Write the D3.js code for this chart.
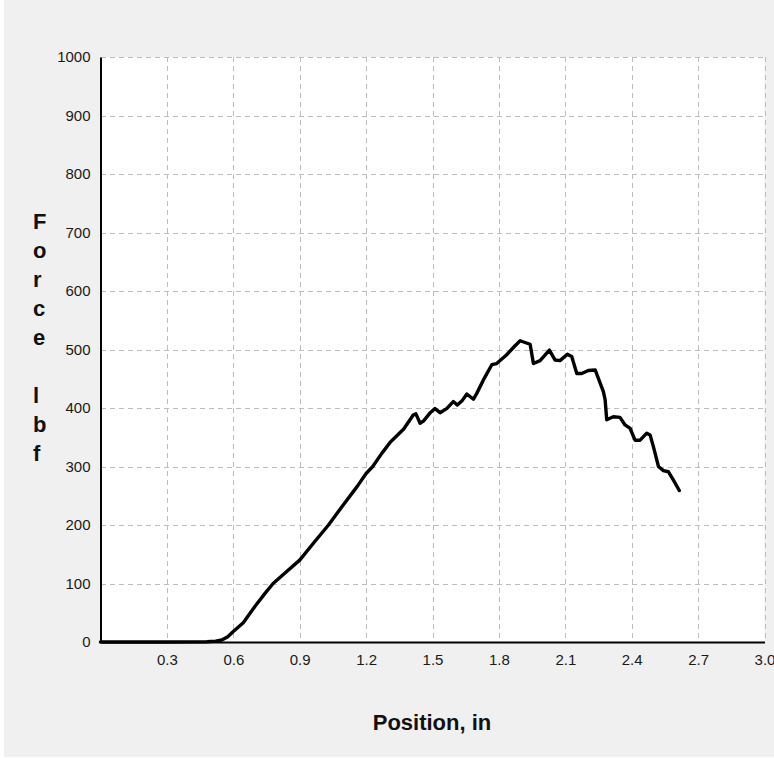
<!DOCTYPE html>
<html>
<head>
<meta charset="utf-8">
<script src="https://cdn.jsdelivr.net/npm/d3@7"></script>
<style>
  html, body { margin: 0; padding: 0; background: #ffffff; }
  svg { display: block; }
</style>
</head>
<body>
<svg id="chart" width="774" height="758"></svg>
<script>
// Force vs. position test record
const positionIn = [
  0, 0.3, 0.48, 0.52, 0.548, 0.575, 0.600, 0.645, 0.70, 0.745, 0.78,
  0.84, 0.90, 0.96, 1.03, 1.10, 1.16, 1.20, 1.23, 1.27,
  1.31, 1.37, 1.413, 1.425, 1.444, 1.46, 1.49, 1.511, 1.534, 1.564, 1.594, 1.612,
  1.635, 1.655, 1.685, 1.700, 1.730, 1.768, 1.790, 1.835, 1.872, 1.896, 1.918, 1.941,
  1.956, 1.986, 2.028, 2.054, 2.076, 2.109, 2.129, 2.152, 2.174, 2.204, 2.235, 2.249,
  2.272, 2.280, 2.287, 2.317, 2.347, 2.370, 2.393, 2.415, 2.438, 2.468, 2.483, 2.498,
  2.521, 2.543, 2.566, 2.588, 2.615
];
const forceLbf = [
  0, 0, 0.5, 1.5, 3.4, 9, 18, 33, 62, 84, 100,
  120, 140, 168, 200, 236, 266, 288, 300, 322,
  342, 364, 388, 390, 374, 378, 392, 399, 392, 399, 411, 405,
  413, 424, 415, 425, 448, 474, 476, 491, 506, 515, 512, 509,
  476, 481, 499, 482, 481, 492, 488, 459, 459, 464, 465, 451,
  428, 414, 380, 385, 384, 371, 365, 345, 345, 357, 354, 334,
  300, 293, 291, 277, 259
];
const xTicks = [0.3, 0.6, 0.9, 1.2, 1.5, 1.8, 2.1, 2.4, 2.7, 3.0];
const yTicks = [0, 100, 200, 300, 400, 500, 600, 700, 800, 900, 1000];
const xTitle = "Position, in";
const yTitleLetters = ["F", "o", "r", "c", "e", "", "l", "b", "f"];

const svg = d3.select("#chart");
const plot = { left: 100.5, right: 764.5, top: 57, bottom: 642 };

// panel background
svg.append("rect").attr("x", 4).attr("y", 0).attr("width", 770).attr("height", 757)
  .attr("fill", "#f0f0f0");
svg.append("rect").attr("x", plot.left).attr("y", plot.top)
  .attr("width", plot.right - plot.left).attr("height", plot.bottom - plot.top)
  .attr("fill", "#ffffff");

const x = d3.scaleLinear().domain([0, 3.0]).range([plot.left, plot.right]);
const y = d3.scaleLinear().domain([0, 1000]).range([plot.bottom, plot.top]);

// dashed grid
const grid = svg.append("g").attr("stroke", "#bdbdbd").attr("stroke-width", 1)
  .attr("stroke-dasharray", "5,4").attr("shape-rendering", "crispEdges");
grid.selectAll("line.v").data(xTicks).join("line").attr("class", "v")
  .attr("x1", d => Math.round(x(d)) + 0.5).attr("x2", d => Math.round(x(d)) + 0.5)
  .attr("y1", plot.top).attr("y2", plot.bottom);
grid.selectAll("line.h").data(yTicks.filter(d => d > 0)).join("line").attr("class", "h")
  .attr("y1", d => Math.round(y(d)) + 0.5).attr("y2", d => Math.round(y(d)) + 0.5)
  .attr("x1", plot.left).attr("x2", plot.right);

// axes
const xAxis = d3.axisBottom(x).tickValues(xTicks).tickFormat(d3.format(".1f")).tickSize(0).tickPadding(12);
const yAxis = d3.axisLeft(y).tickValues(yTicks).tickFormat(d3.format("d")).tickSize(0).tickPadding(10);

const gx = svg.append("g").attr("transform", `translate(0,${plot.bottom})`).call(xAxis);
const gy = svg.append("g").attr("transform", `translate(${plot.left},0)`).call(yAxis);
[gx, gy].forEach(g => {
  g.select(".domain").attr("stroke", "#000").attr("stroke-width", 2);
  g.selectAll("text").attr("fill", "#1a1a1a")
    .style("font-family", "'Liberation Sans', Arial, sans-serif").style("font-size", "15px");
});

// data line
const line = d3.line().x(d => x(d[0])).y(d => y(d[1]));
const pts = positionIn.map((p, i) => [p, forceLbf[i]]);
svg.append("path").datum(pts).attr("d", line)
  .attr("fill", "none").attr("stroke", "#000").attr("stroke-width", 3.4)
  .attr("stroke-linejoin", "round").attr("stroke-linecap", "round");

// axis titles
svg.append("text").attr("x", 432).attr("y", 730).attr("text-anchor", "middle")
  .style("font-family", "'Liberation Sans', Arial, sans-serif").style("font-weight", "bold")
  .style("font-size", "22px").attr("fill", "#111").text(xTitle);

svg.append("g").selectAll("text").data(yTitleLetters).join("text")
  .attr("x", 33).attr("y", (d, i) => 229 + i * 29)
  .style("font-family", "'Liberation Sans', Arial, sans-serif").style("font-weight", "bold")
  .style("font-size", "22px").attr("fill", "#111").text(d => d);
</script>
</body>
</html>
